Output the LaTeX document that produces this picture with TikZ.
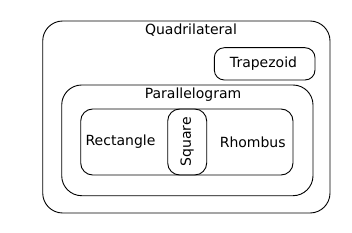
\documentclass[tikz,border=0pt]{standalone}
\usepackage{fontspec}
\setmainfont{DejaVu Sans}
\begin{document}
\begin{tikzpicture}[x=1pt,y=-1pt,
  box/.style={draw=black,line width=0.9pt},
  lbl/.style={font=\fontsize{14}{16}\selectfont,inner sep=0pt}]
\useasboundingbox (0,0) rectangle (352,232);
\draw[box,rounded corners=20] (42.7,21) rectangle (330,213);
\draw[box,rounded corners=10] (214.3,47.7) rectangle (315,80);
\draw[box,rounded corners=20] (61.7,85) rectangle (313,195.7);
\draw[box,rounded corners=12] (80.7,109) rectangle (293,175);
\draw[box,rounded corners=12] (167.7,109) rectangle (206.7,175);
\node[lbl] (quad) at (191,30.5) {Quadrilateral};
\node[lbl] (trap) at (263.5,63.5) {Trapezoid};
\node[lbl] (para) at (193,94.5) {Parallelogram};
\node[lbl] (rect) at (120.5,142) {Rectangle};
\node[lbl] (rhom) at (252.7,142) {Rhombus};
\node[lbl,rotate=90] (sq) at (187.2,142) {Square};
\end{tikzpicture}
\end{document}
